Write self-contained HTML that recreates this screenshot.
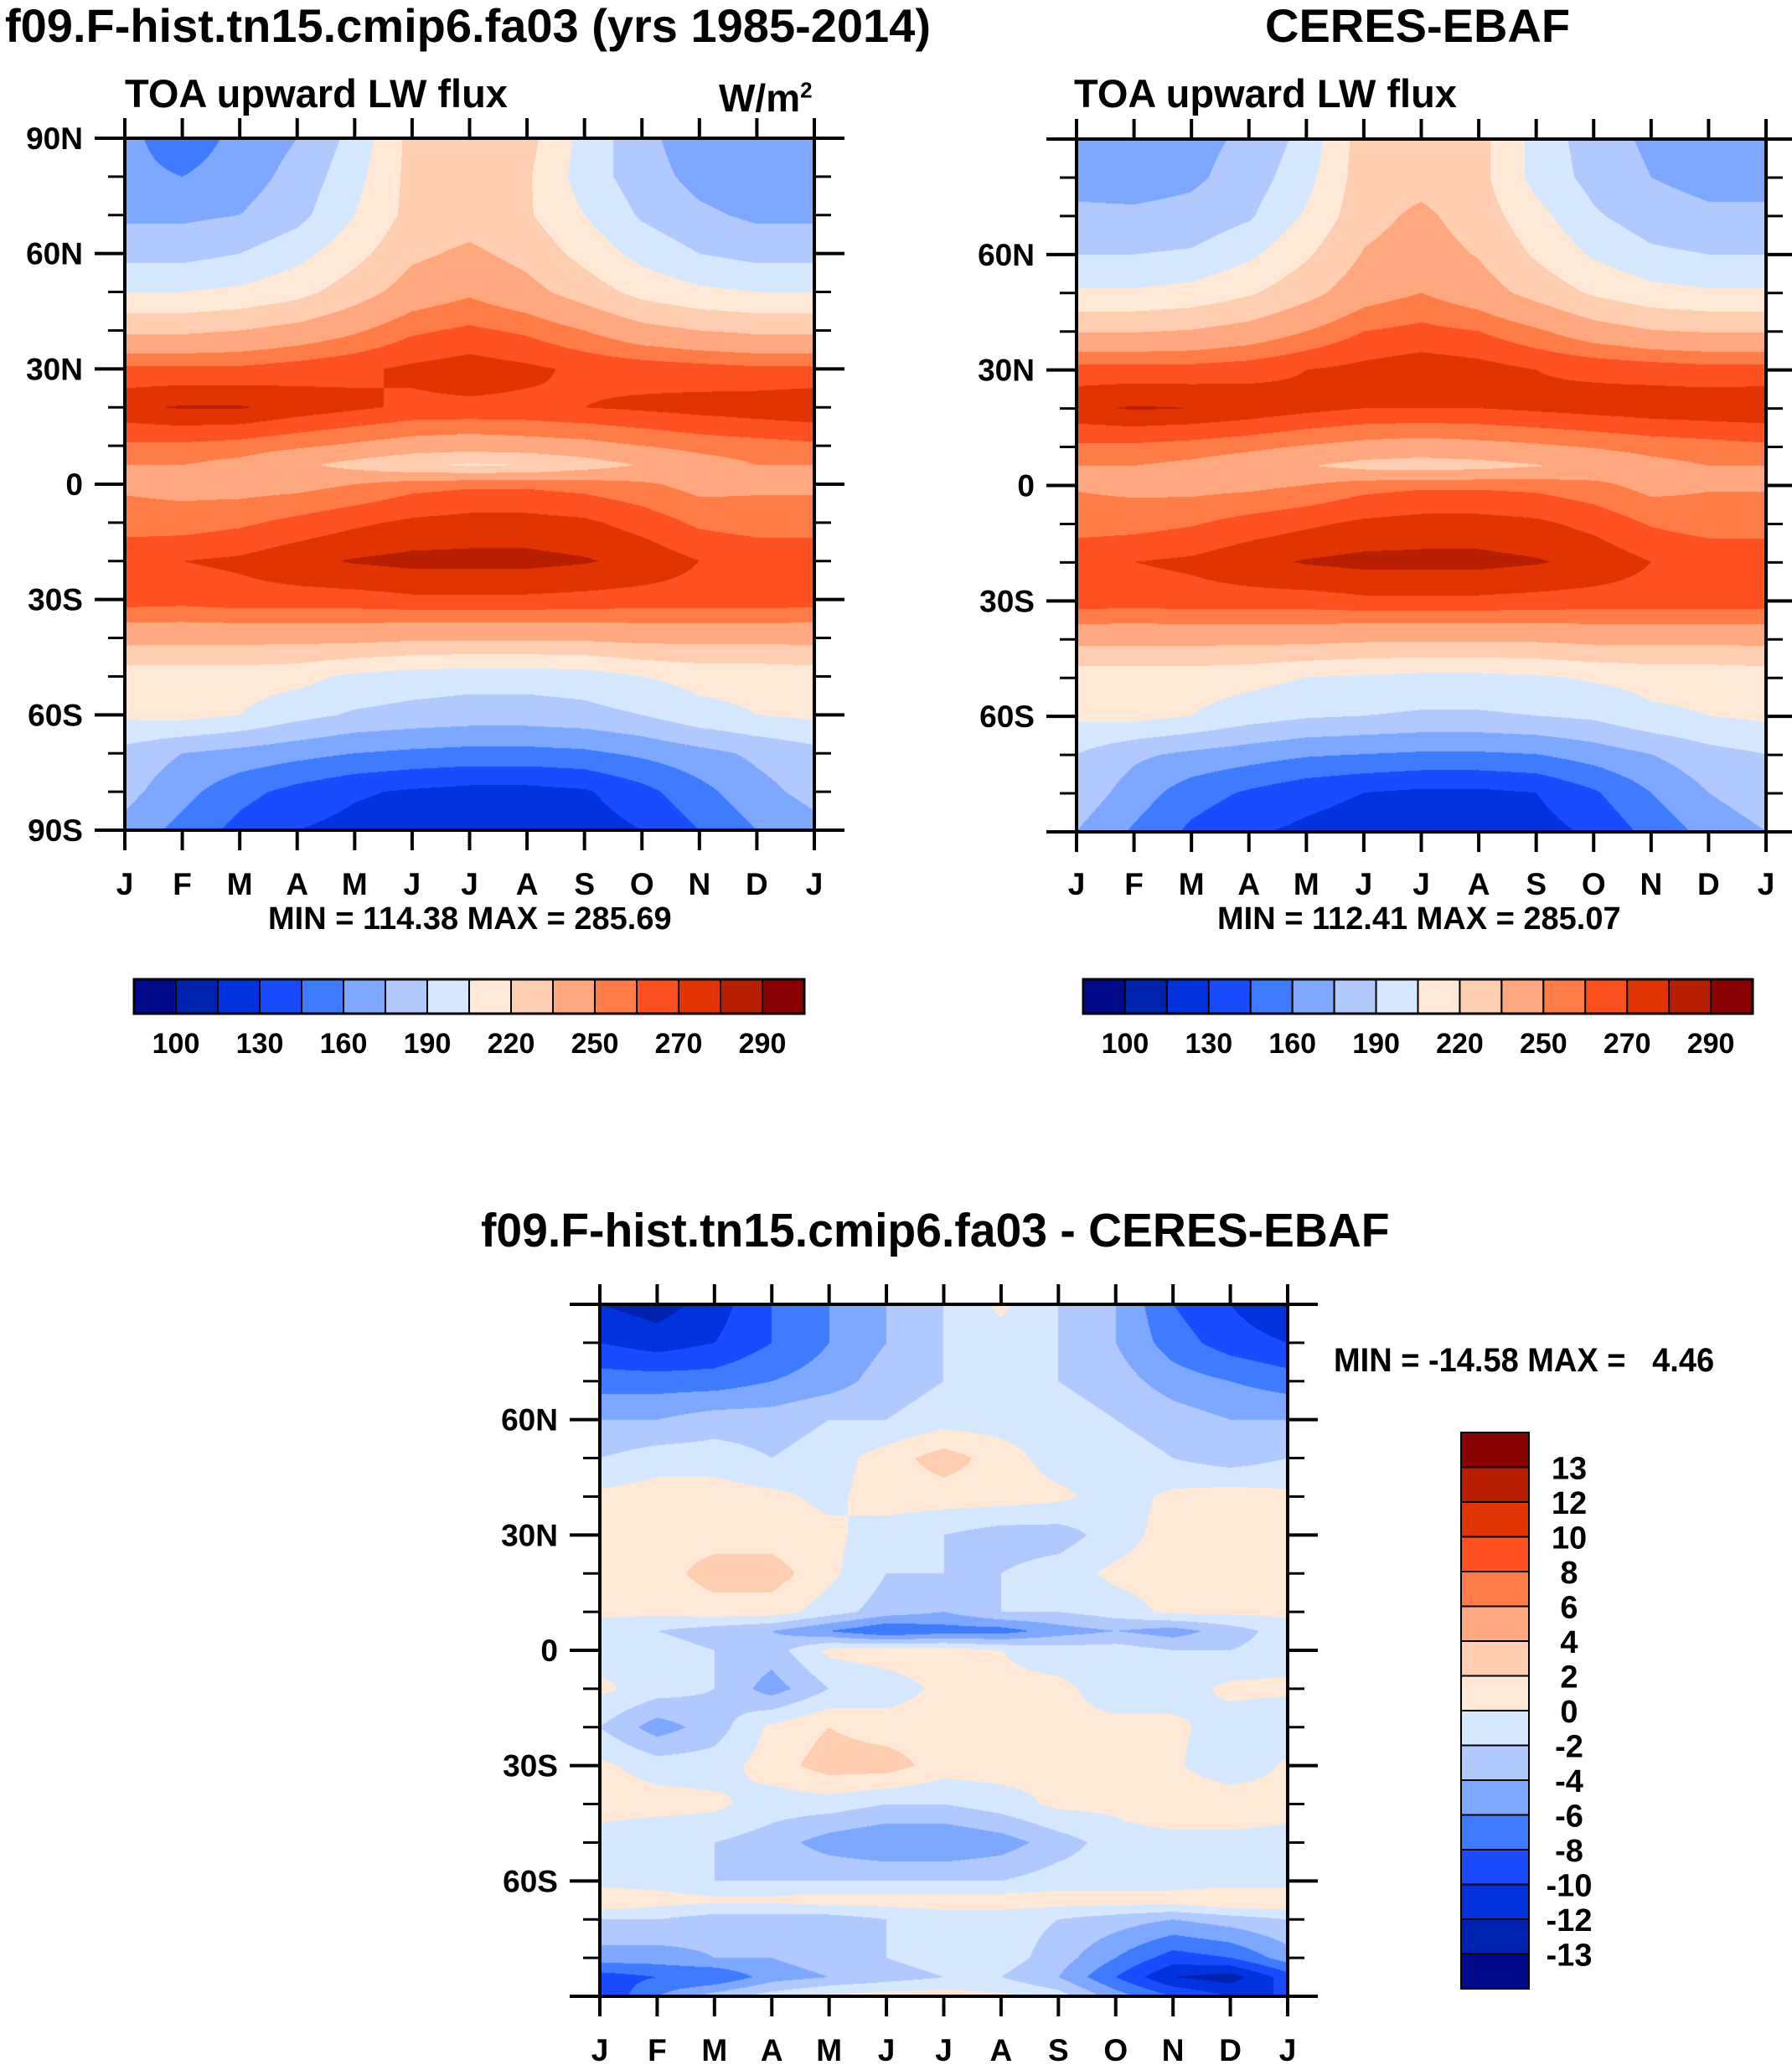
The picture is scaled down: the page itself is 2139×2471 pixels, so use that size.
<!DOCTYPE html>
<html><head><meta charset="utf-8"><style>
body{margin:0;background:#fff;width:2139px;height:2471px;position:relative;overflow:hidden;font-family:"Liberation Sans",sans-serif;font-weight:bold;color:#000}
.t{position:absolute;white-space:nowrap}
canvas{position:absolute}
svg{position:absolute;left:0;top:0}
</style></head><body>
<div class="t" style="left:6px;top:-2px;font-size:56px">f09.F-hist.tn15.cmip6.fa03 (yrs 1985-2014)</div>
<div class="t" style="left:1510px;top:-2px;font-size:56px">CERES-EBAF</div>
<div class="t" style="left:149px;top:84px;font-size:47px">TOA upward LW flux</div>
<div class="t" style="left:858px;top:90px;font-size:46px">W/m<sup style="font-size:26px">2</sup></div>
<div class="t" style="left:1282px;top:84px;font-size:47px">TOA upward LW flux</div>
<div class="t" style="left:320px;top:1076px;font-size:38px">MIN = 114.38 MAX = 285.69</div>
<div class="t" style="left:1453px;top:1076px;font-size:38px">MIN = 112.41 MAX = 285.07</div>
<div class="t" style="left:574px;top:1436px;font-size:57px;transform:scaleX(0.97);transform-origin:left">f09.F-hist.tn15.cmip6.fa03 - CERES-EBAF</div>
<div class="t" style="left:1592px;top:1602px;font-size:40px;transform:scaleX(0.95);transform-origin:left">MIN = -14.58 MAX =&nbsp;&nbsp; 4.46</div>
<canvas id="c1" width="823" height="826" style="left:149px;top:165px"></canvas>
<canvas id="c2" width="823" height="826" style="left:1285px;top:166px"></canvas>
<canvas id="c3" width="821" height="826" style="left:716px;top:1557px"></canvas>
<svg id="ov" width="2139" height="2471"></svg>
<script>
const months=["J","F","M","A","M","J","J","A","S","O","N","D","J"];
const colors=["#000a8a","#0022b0","#0033dd","#1a4cff","#3f7bff","#7ea8ff","#b0c9ff","#d6e8ff","#ffe9d6","#ffcdb0","#ffa77e","#ff7c47","#ff5020","#e23400","#b81e00","#8b0000"];
const levelsAbs=[100,115,130,145,160,175,190,205,220,235,250,260,270,280,290];
const levelsDiff=[-13,-12,-10,-8,-6,-4,-2,0,2,4,6,8,10,12,13];
const absTickLabels=["100","130","160","190","220","250","270","290"];
const latsAbs=[90,80,70,60,50,40,30,20,10,5,0,-10,-20,-30,-40,-50,-60,-70,-80,-90];
const modelVals=[
[165,150,165,175,195,225,225,225,200,180,165,165,165],
[165,160,168,180,200,225,225,222,198,182,170,165,165],
[172,172,175,185,205,225,228,222,205,188,178,172,172],
[185,185,190,200,215,232,238,230,215,200,190,185,185],
[205,205,208,215,228,242,248,240,228,215,208,205,205],
[232,232,235,240,248,258,262,258,250,240,235,232,232],
[262,262,262,265,268,272,275,272,268,266,264,262,262],
[278,281,281,276,272,268,268,268,270,272,274,276,278],
[258,258,256,252,248,244,242,244,246,250,254,256,258],
[250,250,246,238,230,222,218,220,228,236,244,250,250],
[248,246,245,246,250,256,258,258,256,252,246,248,248],
[255,255,258,263,268,272,274,274,272,266,258,255,255],
[268,270,272,277,281,283,283,283,281,277,270,268,268],
[265,264,266,266,266,268,268,268,267,266,266,266,265],
[240,240,240,240,240,238,238,238,238,240,240,240,240],
[212,212,212,210,202,198,196,196,198,205,210,210,212],
[208,210,205,195,188,185,183,183,185,190,200,205,208],
[185,175,170,165,160,157,155,155,157,163,170,178,185],
[180,165,150,140,132,128,125,125,128,140,155,170,180],
[170,155,140,130,125,122,119,119,122,130,145,160,170]];
const obsVals=[
[168,165,170,178,195,228,228,225,200,182,172,168,168],
[170,168,172,182,200,228,230,225,200,185,175,170,170],
[178,178,180,188,207,230,238,228,210,192,182,178,178],
[190,190,192,202,218,236,242,234,218,203,193,190,190],
[207,207,210,218,230,244,250,242,230,218,210,207,207],
[234,234,236,241,250,260,263,260,252,242,236,234,234],
[264,264,264,266,270,273,276,274,270,268,266,264,264],
[278,281,280,277,273,270,270,270,272,274,276,277,278],
[258,258,256,253,249,246,244,246,248,251,254,256,258],
[250,250,247,242,236,230,228,230,234,240,246,250,250],
[249,247,246,247,250,256,258,258,257,253,246,249,249],
[255,256,259,264,268,272,274,274,272,267,259,255,255],
[268,270,272,277,281,283,283,283,281,277,270,268,268],
[266,265,266,266,266,268,268,268,267,266,266,266,266],
[240,240,240,240,240,238,238,238,238,240,240,240,240],
[212,212,212,210,205,203,201,201,203,207,210,210,212],
[208,210,205,197,192,190,188,188,190,193,202,205,208],
[190,178,172,167,162,160,158,158,160,167,175,185,190],
[185,168,152,143,135,130,127,127,130,143,160,175,185],
[175,158,142,132,127,123,120,120,124,133,150,165,175]];
const latsDiff=[90,80,70,60,50,40,30,20,10,5,0,-10,-20,-30,-40,-50,-60,-65,-70,-80,-85,-90];
const diffVals=[
[-12,-13,-11,-8,-6,-4,-2,0.5,-2,-4,-8,-10,-12],
[-10,-11,-10,-8,-6,-4,-2,-1,-2,-4,-7,-9,-10],
[-7,-7,-7,-6,-5,-3,-2,-2,-2,-3,-5,-6,-7],
[-4,-4,-3,-3,-2,-2,-1,-1,-1,-2,-3,-4,-4],
[-2,-1,-1,-2,-1,1,3,1,-1,-1,-2,-3,-2],
[0.5,1,1,0.5,-0.5,1,1,1,0.5,-1,0.5,1,0.5],
[1,1,1,1,0.5,-1,-2,-3,-3,-1,1,1,1],
[0.5,1,3,3,0.5,-2,-2,-2,-1,0.5,1,1,0.5],
[0.5,0.5,1,1,-1,-3,-4,-2,-2,-1,0.5,0.5,0.5],
[-1,-2,-3,-4,-6,-8,-7,-7,-5,-4,-5,-3,-1],
[-1,-1,-2,-3,0.5,1,1,0,-1,-1,-2,-2,-1],
[0.5,-1,-2,-5,-2,-1,0.5,0.5,0.5,-1,-1,0.5,0.5],
[-2,-5,-3,0.5,2,1,1,0.5,0.5,0.5,0.5,-1,-2],
[0.5,-1,-1,1,3,3,1,1,0.5,0.5,0.5,-2,0.5],
[1,1,0.5,-1,-1,-2,-2,-1,0.5,0.5,2,2,1],
[-1,-2,-2,-3,-5,-6,-6,-5,-3,-1,-1,-1,-1],
[-1,-1,-2,-2,-2,-2,-2,-2,-1,-1,-1,-1,-1],
[2,1,0.5,0.5,1,1,1,1,1,1,1,2,2],
[-2,-2,-3,-3,-3,-2,-1,-1,-2,-3,-4,-3,-2],
[-5,-5,-4,-4,-3,-2,-1,-1,-3,-6,-9,-8,-5],
[-9,-8,-8,-5,-4,-3,-2,-2,-4,-8,-12,-13,-9],
[-10,-6,-3,-1,0.5,1,1,0.5,-1,-5,-8,-10,-10]];
const diffTickLabels=["13","12","10","8","6","4","2","0","-2","-4","-6","-8","-10","-12","-13"];

function hex(c){return [parseInt(c.slice(1,3),16),parseInt(c.slice(3,5),16),parseInt(c.slice(5,7),16)];}
const rgb=colors.map(hex);
function drawField(id,lats,vals,levels){
  const cv=document.getElementById(id),ctx=cv.getContext('2d'),W=cv.width,H=cv.height;
  const img=ctx.createImageData(W,H);
  for(let py=0;py<H;py++){
    const lat=90-180*(py+0.5)/H;
    let j=0;while(j<lats.length-2&&lats[j+1]>lat)j++;
    const ty=(lats[j]-lat)/(lats[j]-lats[j+1]);
    for(let px=0;px<W;px++){
      const m=12*(px+0.5)/W;let i=Math.min(11,Math.floor(m));const tx=m-i;
      const v=(vals[j][i]*(1-tx)+vals[j][i+1]*tx)*(1-ty)+(vals[j+1][i]*(1-tx)+vals[j+1][i+1]*tx)*ty;
      let k=0;while(k<levels.length&&v>=levels[k])k++;
      const c=rgb[k],o=(py*W+px)*4;img.data[o]=c[0];img.data[o+1]=c[1];img.data[o+2]=c[2];img.data[o+3]=255;
    }
  }
  ctx.putImageData(img,0,0);
}
drawField('c1',latsAbs,modelVals,levelsAbs);
drawField('c2',latsAbs,obsVals,levelsAbs);
drawField('c3',latsDiff,diffVals,levelsDiff);

const NS="http://www.w3.org/2000/svg",ov=document.getElementById('ov');
function el(t,a,txt){const e=document.createElementNS(NS,t);for(const k in a)e.setAttribute(k,a[k]);if(txt!==undefined)e.textContent=txt;ov.appendChild(e);return e;}
function axes(x0,x1,y0,y1,ylabels,xlabY,name){
  const f=el('rect',{x:x0,y:y0,width:x1-x0,height:y1-y0,fill:'none',stroke:'#000','stroke-width':4});
  
  
  for(let i=0;i<13;i++){
    const x=x0+(x1-x0)*i/12;
    el('line',{x1:x,x2:x,y1:y1,y2:y1+24,stroke:'#000','stroke-width':4});
    el('line',{x1:x,x2:x,y1:y0,y2:y0-24,stroke:'#000','stroke-width':4});
    const t=el('text',{x:x,y:xlabY,'text-anchor':'middle','font-size':37,'font-weight':'bold','font-family':'Liberation Sans'},months[i]);
    
    
  }
  for(let k=0;k<=18;k++){
    const y=y0+(y1-y0)*k/18,maj=k%3===0;
    const L=maj?36:20;
    el('line',{x1:x0,x2:x0-L,y1:y,y2:y,stroke:'#000','stroke-width':maj?4:3});
    el('line',{x1:x1,x2:x1+L,y1:y,y2:y,stroke:'#000','stroke-width':maj?4:3});
    if(maj&&ylabels[k/3]){
      const t=el('text',{x:x0-50,y:y+13,'text-anchor':'end','font-size':37,'font-weight':'bold','font-family':'Liberation Sans'},ylabels[k/3]);
      
      
    }
  }
}
axes(149,972,165,991,["90N","60N","30N","0","30S","60S","90S"],1068,'model');
axes(1285,2108,166,993,["","60N","30N","0","30S","60S",""],1068,'obs');
axes(716,1537,1557,2383,["","60N","30N","0","30S","60S",""],2460,'diff');
function hbar(x0,x1,y0,y1){
  const w=(x1-x0)/16;
  for(let i=0;i<16;i++){const r=el('rect',{x:x0+i*w,y:y0,width:w,height:y1-y0,fill:colors[i],stroke:'#000','stroke-width':2});
    
    }
  el('rect',{x:x0,y:y0,width:x1-x0,height:y1-y0,fill:'none',stroke:'#000','stroke-width':3});
  for(let k=0;k<absTickLabels.length;k++){
    const t=el('text',{x:x0+w*(1+2*k),y:y1+47,'text-anchor':'middle','font-size':34,'font-weight':'bold','font-family':'Liberation Sans'},absTickLabels[k]);
    
    
  }
}
hbar(160,960,1169,1210);
hbar(1293,2092,1169,1210);
(function(){
  const x0=1744,x1=1825,y0=1710,y1=2374,h=(y1-y0)/16;
  for(let i=0;i<16;i++){const r=el('rect',{x:x0,y:y0+i*h,width:x1-x0,height:h,fill:colors[15-i],stroke:'#000','stroke-width':2});
    
    }
  for(let k=0;k<diffTickLabels.length;k++){
    const t=el('text',{x:1873,y:y0+h*(k+1)+14,'text-anchor':'middle','font-size':38,'font-weight':'bold','font-family':'Liberation Sans'},diffTickLabels[k]);
    
    
  }
})();
</script>
</body></html>
